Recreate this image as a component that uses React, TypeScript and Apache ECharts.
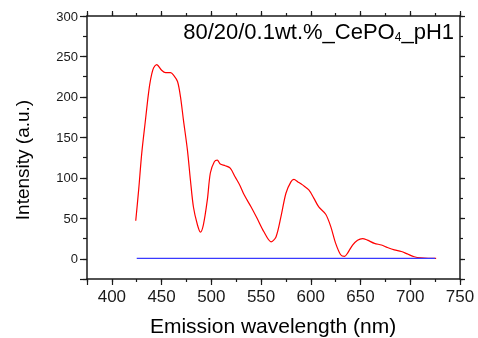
import React, { useEffect, useRef } from 'react';
import * as echarts from 'echarts';

const wavelengths = [
  424, 427, 430, 434, 436, 438, 440, 442, 445, 450, 454, 459, 462, 466, 469, 472, 476, 479,
  482, 486, 489, 492, 496, 499, 503, 506, 509, 514, 519, 524, 529, 533, 540, 546,
  553, 560, 565, 570, 575, 580, 583, 587, 592, 598, 603, 608, 615, 620, 625, 630,
  634, 637, 642, 647, 652, 657, 664, 671, 677, 684, 691, 697, 704, 711, 718, 726,
];
const redIntensity = [
  47, 86, 130, 174, 196, 215, 228, 236, 240, 233, 230, 230, 227, 219, 200, 171, 134, 97,
  64, 42, 33, 42, 73, 106, 120, 122, 117, 115, 112, 101, 90, 79, 64, 50,
  33, 21, 27, 52, 81, 95, 98, 95, 91, 85, 75, 64, 55, 40, 19, 5,
  3, 7, 17, 23, 25, 23, 19, 17, 14, 11, 9, 6, 2.5, 1, 0.5, 0.5,
];
const blueWavelengths = [425, 725];
const blueIntensity = [0.5, 0.4];

const titleMain = '80/20/0.1wt.%_CePO';
const titleSub = '4';
const titleEnd = '_pH1';
const xAxisName = 'Emission wavelength (nm)';
const yAxisName = 'Intensity (a.u.)';

const FONT = 'Liberation Sans, Arial, sans-serif';
const AX = '#1a1a1a';

export default function App() {
  const ref = useRef<HTMLDivElement>(null);
  useEffect(() => {
    const chart = echarts.init(ref.current!, null, { renderer: 'svg' });
    const line = { onZero: false, lineStyle: { color: AX, width: 1.5 } };
    const noLine = { show: false, onZero: false };
    const tick = (len: number) => ({ show: true, inside: false, length: len, lineStyle: { color: AX, width: 1.2 } });
    const noLabel = { show: false };
    const xBase = { type: 'value', min: 375, max: 750, splitLine: { show: false } };
    const yBase = { type: 'value', min: -25, max: 300, splitLine: { show: false } };
    chart.setOption({
      animation: false,
      grid: { left: 87, right: 18, top: 16, bottom: 59, containLabel: false },
      xAxis: [
        {
          ...xBase, position: 'bottom', interval: 25, axisLine: line, axisTick: tick(3),
          axisLabel: {
            fontSize: 17, color: AX, fontFamily: FONT, margin: 9,
            formatter: (v: number) => (v % 50 === 0 ? String(v) : ''),
          },
        },
        { ...xBase, position: 'bottom', splitNumber: 7, axisLine: noLine, axisTick: tick(6), axisLabel: noLabel },
        { ...xBase, position: 'top', interval: 25, axisLine: line, axisTick: tick(3), axisLabel: noLabel },
        { ...xBase, position: 'top', splitNumber: 7, axisLine: noLine, axisTick: tick(5), axisLabel: noLabel },
      ],
      yAxis: [
        {
          ...yBase, position: 'left', interval: 25, axisLine: line, axisTick: tick(4),
          axisLabel: {
            fontSize: 13, color: AX, fontFamily: FONT, margin: 9,
            formatter: (v: number) => (v % 50 === 0 ? String(v) : ''),
          },
        },
        { ...yBase, position: 'left', splitNumber: 7, axisLine: noLine, axisTick: tick(7), axisLabel: noLabel },
        { ...yBase, position: 'right', interval: 25, axisLine: line, axisTick: tick(3), axisLabel: noLabel },
        { ...yBase, position: 'right', splitNumber: 7, axisLine: noLine, axisTick: tick(5), axisLabel: noLabel },
      ],
      series: [
        {
          type: 'line', xAxisIndex: 0, yAxisIndex: 0, showSymbol: false, smooth: 0.3,
          lineStyle: { color: '#ff0000', width: 1.2 },
          data: wavelengths.map((w, i) => [w, redIntensity[i]]),
        },
        {
          type: 'line', xAxisIndex: 0, yAxisIndex: 0, showSymbol: false,
          lineStyle: { color: '#3a3aff', width: 1.3 },
          data: blueWavelengths.map((w, i) => [w, blueIntensity[i]]),
        },
      ],
      graphic: [
        {
          type: 'text', x: 454, y: 31,
          style: {
            text: `{a|${titleMain}}{s|${titleSub}}{a|${titleEnd}}`,
            align: 'right', verticalAlign: 'middle',
            rich: {
              a: { fontSize: 22, fontFamily: FONT, fill: '#000', lineHeight: 24 },
              s: { fontSize: 12, fontFamily: FONT, fill: '#000', lineHeight: 24, padding: [12, 0, 0, 0] },
            },
          },
        },
        {
          type: 'text', x: 273, y: 325,
          style: { text: xAxisName, fontSize: 21, fontFamily: FONT, fill: '#000', align: 'center', verticalAlign: 'middle' },
        },
        {
          type: 'text', x: 22, y: 160, rotation: Math.PI / 2,
          style: { text: yAxisName, fontSize: 19, fontFamily: FONT, fill: '#000', align: 'center', verticalAlign: 'middle' },
        },
      ],
    });
    return () => chart.dispose();
  }, []);
  return <div ref={ref} style={{ position: 'fixed', left: 0, top: 0, width: 478, height: 338 }} />;
}
